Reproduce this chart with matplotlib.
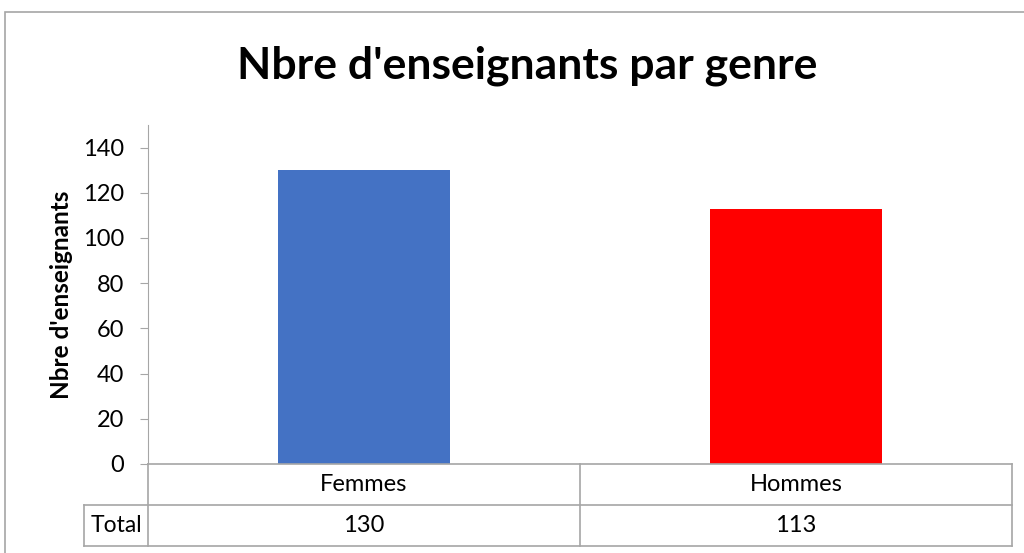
import matplotlib.pyplot as plt
from matplotlib.lines import Line2D
from matplotlib.patches import Rectangle

# Données
categories = ['Femmes', 'Hommes']
totaux = [130, 113]
couleurs = ['#4472C4', '#FF0000']
graduations = [0, 20, 40, 60, 80, 100, 120, 140]

plt.rcParams['font.family'] = ['Lato', 'DejaVu Sans']
gris = '#A6A6A6'

fig = plt.figure(figsize=(10.24, 5.53), dpi=100)

# Cadre du graphique (coupé à droite et en bas)
fig.patches.append(Rectangle((5 / 1024, -0.1), 1.1, 1 - 12 / 553 + 0.1,
                             transform=fig.transFigure, fill=False,
                             edgecolor=gris, linewidth=1.2))

ax = fig.add_axes([148 / 1024, 1 - 464 / 553, (1012 - 148) / 1024, (464 - 125) / 553])
x = list(range(len(categories)))
ax.bar(x, totaux, width=0.4, color=couleurs)
ax.set_xlim(-0.5, len(categories) - 0.5)
ax.set_ylim(0, 150)
ax.set_yticks(graduations)
ax.set_xticks([])
ax.tick_params(axis='y', labelsize=17, length=6, color=gris, pad=11)
for s in ['top', 'right', 'bottom']:
    ax.spines[s].set_visible(False)
ax.spines['left'].set_color(gris)
ax.set_ylabel("Nbre d'enseignants", fontsize=17.5, fontweight='bold', labelpad=7)

fig.text(527 / 1024, 1 - 66 / 553, "Nbre d'enseignants par genre",
         fontsize=32, fontweight='bold', ha='center', va='center')

# Tableau de données sous l'axe
h = ax.get_position().height * 553
r1 = -41 / h
r2 = -82 / h
tr = ax.get_xaxis_transform()
bord_gauche = -0.5 - (148 - 84) / 432
kw = dict(color=gris, linewidth=1.2, clip_on=False)
ax.add_line(Line2D([-0.5, 1.5], [0, 0], transform=tr, **kw))
ax.add_line(Line2D([bord_gauche, 1.5], [r1, r1], transform=tr, **kw))
ax.add_line(Line2D([bord_gauche, 1.5], [r2, r2], transform=tr, **kw))
ax.add_line(Line2D([bord_gauche, bord_gauche], [r1, r2], transform=tr, **kw))
for xv in [-0.5, 0.5, 1.5]:
    ax.add_line(Line2D([xv, xv], [0, r2], transform=tr, **kw))

for xi, cat, val in zip(x, categories, totaux):
    ax.text(xi, r1 / 2, cat, transform=tr, ha='center', va='center', fontsize=17)
    ax.text(xi, (r1 + r2) / 2, str(val), transform=tr, ha='center', va='center', fontsize=17)
ax.text((bord_gauche - 0.5) / 2, (r1 + r2) / 2, 'Total', transform=tr,
        ha='center', va='center', fontsize=16.5)

fig.savefig('out.png', dpi=100)
